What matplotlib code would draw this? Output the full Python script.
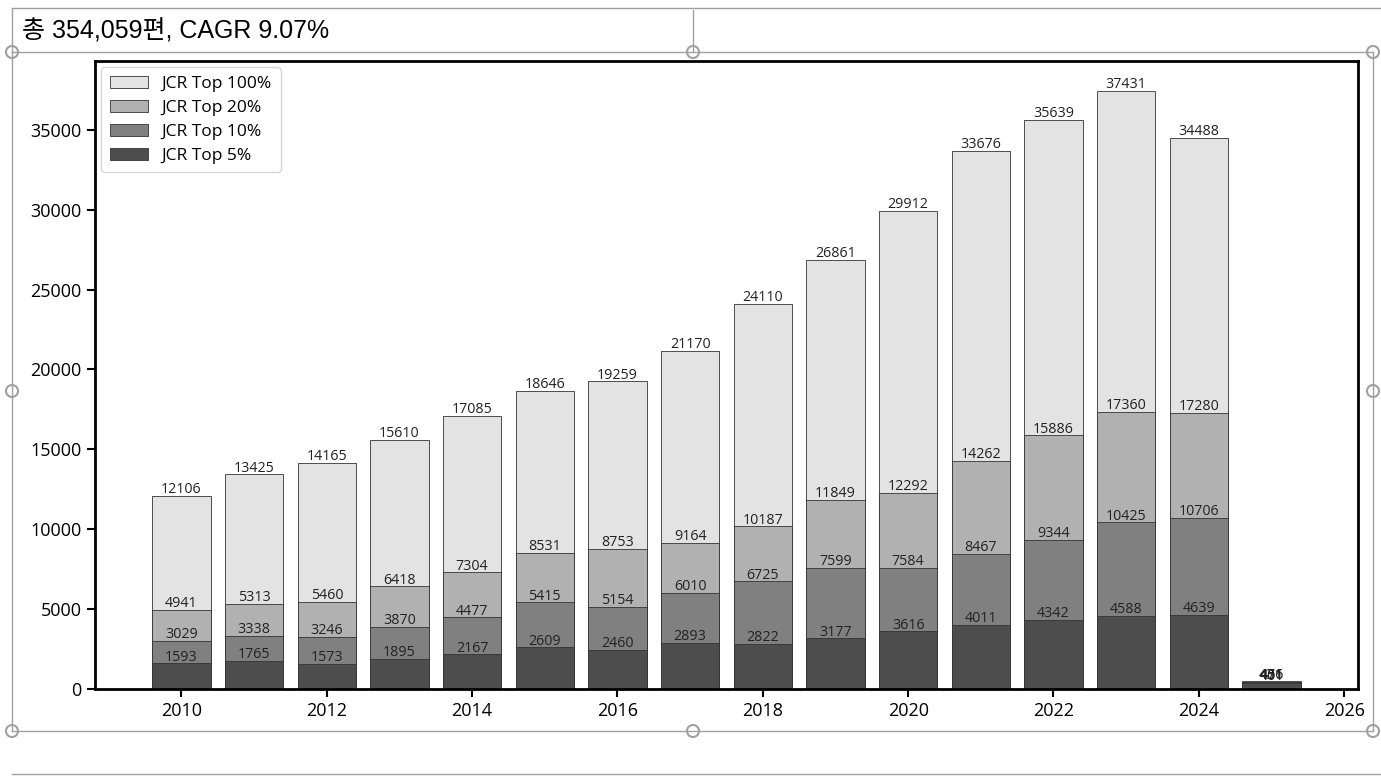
import matplotlib.pyplot as plt
from matplotlib.patches import Ellipse

plt.rcParams['font.family'] = ['Open Sans', 'Noto Sans CJK KR', 'DejaVu Sans']

years = [2010, 2011, 2012, 2013, 2014, 2015, 2016, 2017, 2018, 2019, 2020,
         2021, 2022, 2023, 2024, 2025]
top100 = [12106, 13425, 14165, 15610, 17085, 18646, 19259, 21170, 24110, 26861,
          29912, 33676, 35639, 37431, 34488, 476]
top20 = [4941, 5313, 5460, 6418, 7304, 8531, 8753, 9164, 10187, 11849,
         12292, 14262, 15886, 17360, 17280, 451]
top10 = [3029, 3338, 3246, 3870, 4477, 5415, 5154, 6010, 6725, 7599,
         7584, 8467, 9344, 10425, 10706, 431]
top5 = [1593, 1765, 1573, 1895, 2167, 2609, 2460, 2893, 2822, 3177,
        3616, 4011, 4342, 4588, 4639, 401]

series = [('JCR Top 100%', top100, '#e3e3e3'),
          ('JCR Top 20%', top20, '#b1b1b1'),
          ('JCR Top 10%', top10, '#808080'),
          ('JCR Top 5%', top5, '#4d4d4d')]

fig = plt.figure(figsize=(13.81, 7.82), dpi=100)
ax = fig.add_axes([0.0688, 0.119, 0.9145, 0.803])

for name, vals, col in series:
    bars = ax.bar(years, vals, width=0.8, color=col, edgecolor='#333333',
                  linewidth=0.6, label=name)
    ax.bar_label(bars, fontsize=10.3, color='#222222', padding=-1)

ax.set_xticks([2010, 2012, 2014, 2016, 2018, 2020, 2022, 2024, 2026])
ax.tick_params(labelsize=13, length=6, width=1.5)
for s in ax.spines.values():
    s.set_linewidth(2)

ax.legend(loc='upper left', fontsize=12.5, frameon=True, fancybox=True,
          edgecolor='#cccccc', borderpad=0.5, handlelength=2.2,
          labelspacing=0.45, borderaxespad=0.35)

# title text and slide frame around the chart
fig.text(22 / 1381, 1 - 31 / 782, '총 354,059편, CAGR 9.07%', fontsize=18,
         va='center', ha='left', color='black',
         family=['Liberation Sans', 'Noto Sans CJK KR'])

gray = '#a0a0a0'
def hline(y, x0, x1):
    fig.add_artist(plt.Line2D([x0 / 1381, x1 / 1381], [1 - y / 782, 1 - y / 782],
                              color=gray, lw=1))
def vline(x, y0, y1):
    fig.add_artist(plt.Line2D([x / 1381, x / 1381], [1 - y0 / 782, 1 - y1 / 782],
                              color=gray, lw=1))

hline(8, 12, 1381)
hline(52, 12, 1373)
hline(731, 12, 1373)
hline(774, 12, 1381)
vline(12, 8, 52)
vline(12, 52, 731)
vline(1373, 52, 731)
vline(693, 10, 52)
for cx, cy in [(12, 52), (693, 52), (1373, 52), (12, 391), (1373, 391),
               (12, 731), (693, 731), (1373, 731)]:
    fig.add_artist(Ellipse((cx / 1381, 1 - cy / 782), 12 / 1381, 12 / 782,
                           transform=fig.transFigure, facecolor='white',
                           edgecolor=gray, lw=1.5))

plt.savefig('out.png', dpi=100)
